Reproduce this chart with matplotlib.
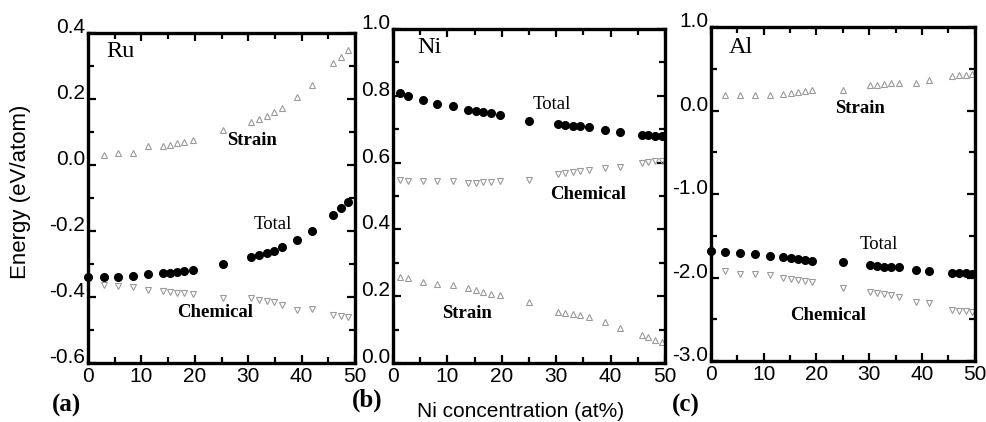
import numpy as np
import matplotlib
matplotlib.use('Agg')
import matplotlib.pyplot as plt
from matplotlib.ticker import MultipleLocator, FormatStrFormatter

# ---- data ----
ru_conc = [0, 2.9, 5.7, 8.5, 11.3, 14.1, 15.4, 16.6, 17.9, 19.7, 25.2,
           30.6, 32.0, 33.5, 34.8, 36.3, 39.1, 41.9, 45.9, 47.3, 48.7]
ru_total = [-0.338, -0.338, -0.338, -0.336, -0.331, -0.326, -0.326, -0.323, -0.320, -0.318, -0.300,
            -0.280, -0.273, -0.266, -0.260, -0.249, -0.227, -0.200, -0.152, -0.130, -0.112]
ru_strain = [0.030, 0.035, 0.037, 0.058, 0.058, 0.062, 0.066, 0.071, 0.076, 0.106,
             0.131, 0.140, 0.150, 0.160, 0.172, 0.207, 0.242, 0.309, 0.327, 0.348]
ru_chem = [-0.364, -0.367, -0.371, -0.379, -0.383, -0.385, -0.387, -0.388, -0.390, -0.404,
           -0.404, -0.408, -0.412, -0.416, -0.424, -0.439, -0.437, -0.455, -0.457, -0.460]

ni_conc = [1.2, 2.7, 5.5, 8.1, 11.0, 13.8, 15.3, 16.5, 18.0, 19.6, 25.0,
           30.3, 31.7, 33.0, 34.4, 36.0, 39.0, 41.7, 45.8, 46.9, 48.2, 49.4]
ni_total = [0.808, 0.798, 0.786, 0.775, 0.770, 0.758, 0.755, 0.751, 0.748, 0.743, 0.726,
            0.716, 0.714, 0.711, 0.709, 0.707, 0.698, 0.691, 0.683, 0.682, 0.681, 0.680]
ni_strain = [0.258, 0.253, 0.243, 0.238, 0.234, 0.226, 0.220, 0.214, 0.208, 0.203, 0.183,
             0.154, 0.151, 0.148, 0.144, 0.139, 0.124, 0.104, 0.084, 0.077, 0.070, 0.064]
ni_chem = [0.548, 0.545, 0.545, 0.545, 0.545, 0.540, 0.540, 0.541, 0.543, 0.545, 0.548,
           0.566, 0.568, 0.571, 0.574, 0.578, 0.583, 0.588, 0.600, 0.602, 0.604, 0.606]

al_conc = [0, 2.7, 5.5, 8.3, 11.1, 13.6, 15.1, 16.5, 17.9, 19.2, 25.0,
           30.1, 31.4, 32.8, 34.2, 35.6, 38.9, 41.4, 45.7, 47.0, 48.3, 49.5]
al_total = [-1.68, -1.70, -1.71, -1.72, -1.74, -1.76, -1.77, -1.78, -1.79, -1.80, -1.82,
            -1.85, -1.86, -1.87, -1.87, -1.88, -1.91, -1.92, -1.94, -1.95, -1.95, -1.96]
al_strain = [0.18, 0.18, 0.18, 0.18, 0.20, 0.21, 0.22, 0.23, 0.24, 0.24,
             0.30, 0.31, 0.32, 0.33, 0.33, 0.33, 0.37, 0.41, 0.42, 0.43, 0.44]
al_chem = [-1.92, -1.96, -1.96, -1.97, -2.01, -2.02, -2.03, -2.04, -2.05, -2.12,
           -2.17, -2.19, -2.20, -2.21, -2.23, -2.29, -2.31, -2.39, -2.40, -2.40, -2.41]

sans = 'Liberation Sans'
serif = 'Liberation Serif'

fig = plt.figure(figsize=(9.87, 4.22), dpi=100)
ax_a = fig.add_axes([0.0892, 0.1398, 0.2705, 0.7820])
ax_b = fig.add_axes([0.3982, 0.1398, 0.2756, 0.7915])
ax_c = fig.add_axes([0.7204, 0.1445, 0.2670, 0.7915])

tri = dict(linestyle='none', markersize=3.8, markerfacecolor='none',
           markeredgecolor='#9a9a9a', markeredgewidth=0.8)
dot = dict(linestyle='none', marker='o', color='black', markersize=5.5)


def style(ax, ylim, major, minor):
    ax.set_xlim(0, 50)
    ax.set_ylim(*ylim)
    ax.xaxis.set_major_locator(MultipleLocator(10))
    ax.xaxis.set_minor_locator(MultipleLocator(5))
    ax.yaxis.set_major_locator(MultipleLocator(major))
    ax.yaxis.set_minor_locator(MultipleLocator(minor))
    ax.yaxis.set_major_formatter(FormatStrFormatter('%.1f'))
    ax.tick_params(which='both', direction='in', top=True, right=True, width=1.6)
    ax.tick_params(which='major', length=6)
    ax.tick_params(which='minor', length=4)
    ax.tick_params(axis='x', pad=3)
    ax.tick_params(axis='y', pad=2)
    for s in ax.spines.values():
        s.set_linewidth(2.4)
    for lab in ax.get_xticklabels() + ax.get_yticklabels():
        lab.set_fontfamily(sans)
        lab.set_fontsize(15)
    for lab in ax.get_yticklabels():
        lab.set_va('baseline')


# (a) Ru
ax_a.plot(ru_conc, ru_total, clip_on=False, **dot)
ax_a.plot(ru_conc[1:], ru_strain, '^', **tri)
ax_a.plot(ru_conc[1:], ru_chem, 'v', **tri)
style(ax_a, (-0.6, 0.4), 0.2, 0.1)
ax_a.text(3.5, 0.375, 'Ru', family=serif, fontsize=17.5, va='top')
ax_a.text(26, 0.075, 'Strain', family=serif, fontsize=13.5, va='center', weight='bold')
ax_a.text(31, -0.18, 'Total', family=serif, fontsize=13.5, va='center')
ax_a.text(16.7, -0.448, 'Chemical', family=serif, fontsize=13.5, va='center', weight='bold')

# (b) Ni
ax_b.plot(ni_conc, ni_total, **dot)
ax_b.plot(ni_conc, ni_strain, '^', **tri)
ax_b.plot(ni_conc, ni_chem, 'v', **tri)
style(ax_b, (0.0, 1.0), 0.2, 0.1)
ax_b.text(4.5, 0.975, 'Ni', family=serif, fontsize=17.5, va='top')
ax_b.text(25.7, 0.773, 'Total', family=serif, fontsize=13.5, va='center')
ax_b.text(28.9, 0.503, 'Chemical', family=serif, fontsize=13.5, va='center', weight='bold')
ax_b.text(9, 0.148, 'Strain', family=serif, fontsize=13.5, va='center', weight='bold')

# (c) Al
ax_c.plot(al_conc, al_total, clip_on=False, **dot)
ax_c.plot(al_conc[1:], al_strain, '^', **tri)
ax_c.plot(al_conc[1:], al_chem, 'v', **tri)
style(ax_c, (-3.0, 1.0), 1.0, 0.5)
ax_c.text(3.3, 0.88, 'Al', family=serif, fontsize=17.5, va='top')
ax_c.text(23.5, 0.02, 'Strain', family=serif, fontsize=13.5, va='center', weight='bold')
ax_c.text(28.2, -1.61, 'Total', family=serif, fontsize=13.5, va='center')
ax_c.text(15.1, -2.45, 'Chemical', family=serif, fontsize=13.5, va='center', weight='bold')

fig.text(0.021, 0.545, 'Energy (eV/atom)', family=sans, fontsize=16,
         rotation=90, ha='center', va='center')
fig.text(0.527, 0.024, 'Ni concentration (at%)', family=sans, fontsize=15,
         ha='center', va='center')
fig.text(0.053, 0.04, '(a)', family=serif, fontsize=18, weight='bold', va='center')
fig.text(0.357, 0.052, '(b)', family=serif, fontsize=18, weight='bold', va='center')
fig.text(0.681, 0.04, '(c)', family=serif, fontsize=18, weight='bold', va='center')

fig.savefig('out.png', dpi=100)
